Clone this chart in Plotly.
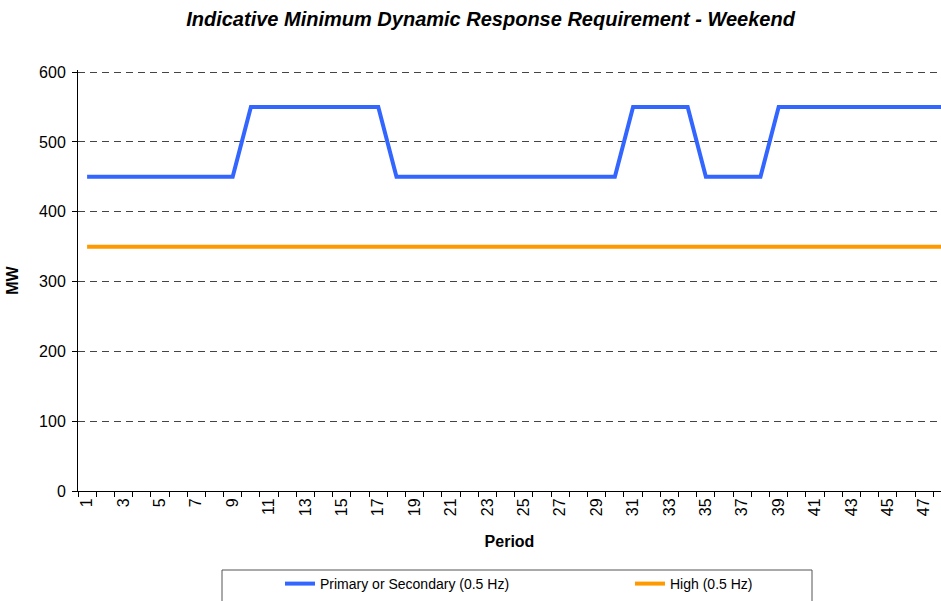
import plotly.graph_objs as go

periods = list(range(1, 49))
primary = [450] * 9 + [550] * 8 + [450] * 13 + [550] * 4 + [450] * 4 + [550] * 10
high = [350] * 48

tick_vals = list(range(1, 48, 2))
tick_labels = [str(p) for p in tick_vals]
y_ticks = [0, 100, 200, 300, 400, 500, 600]

L, R, T, B = 78, 0, 70, 110
W, H = 941, 601
pw = W - L - R
ph = H - T - B


def px_x(x):
    return (x - L) / pw


def px_y(y):
    return (H - B - y) / ph


data = [
    go.Scatter(
        name='Primary or Secondary (0.5 Hz)',
        x=periods,
        y=primary,
        mode='lines',
        line=dict(color='#3366FF', width=4),
        legend='legend',
    ),
    go.Scatter(
        name='High (0.5 Hz)',
        x=periods,
        y=high,
        mode='lines',
        line=dict(color='#FF9900', width=4),
        legend='legend2',
    ),
]

# legends kept inside the figure so they do not push the bottom margin
legend_style = dict(
    orientation='h',
    yanchor='bottom',
    y=px_y(600),
    xanchor='left',
    itemwidth=30,
    font=dict(size=14),
    bgcolor='rgba(0,0,0,0)',
)

layout = go.Layout(
    width=W,
    height=H,
    margin=dict(l=L, r=R, t=T, b=B),
    paper_bgcolor='white',
    plot_bgcolor='white',
    font=dict(family='Liberation Sans, Arial', size=16, color='black'),
    title=dict(
        text='<b><i>Indicative Minimum Dynamic Response Requirement - Weekend</i></b>',
        x=0.5213, xanchor='center', xref='container',
        y=1 - 19 / H, yanchor='middle',
        font=dict(size=20),
    ),
    xaxis=dict(
        range=[0.5, 47.92],
        tickmode='array',
        tickvals=tick_vals,
        ticktext=tick_labels,
        tickangle=-90,
        ticks='',
        showgrid=False,
        showline=True,
        linecolor='black',
        linewidth=1,
        zeroline=False,
        automargin=False,
        minor=dict(ticks='outside', tick0=0.5, dtick=1, ticklen=5,
                   tickcolor='black', showgrid=False),
        title=dict(text='<b>Period</b>', standoff=20, font=dict(size=16)),
    ),
    yaxis=dict(
        range=[0, 603],
        tickmode='array',
        tickvals=y_ticks,
        ticks='outside',
        ticklen=5,
        tickcolor='black',
        ticklabelstandoff=3,
        showline=True,
        linecolor='black',
        linewidth=1,
        zeroline=False,
        automargin=False,
        showgrid=True,
        gridcolor='#444444',
        gridwidth=1,
        griddash='7px,5px',
        title=dict(text='<b>MW</b>', standoff=16, font=dict(size=16)),
    ),
    showlegend=True,
    legend=dict(legend_style, x=px_x(280)),
    legend2=dict(legend_style, x=px_x(630)),
    shapes=[
        dict(type='rect', xref='paper', yref='paper',
             x0=px_x(222), x1=px_x(812), y0=px_y(570), y1=px_y(615),
             line=dict(color='#555555', width=1)),
    ],
)

fig = go.Figure(data=data, layout=layout)
# page body has a default 8px margin; drop it so the figure sits at 0,0
fig.write_html('out.html', config={'displayModeBar': False},
               post_script="document.body.style.margin='0';")
